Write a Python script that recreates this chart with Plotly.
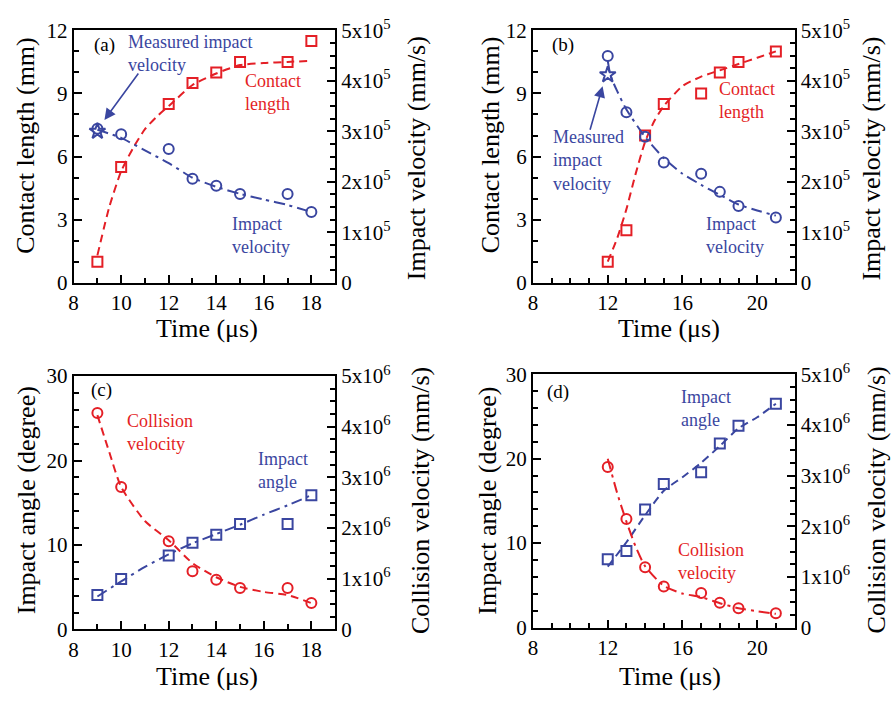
import plotly.graph_objects as go

# ---------------- data ----------------
# (a)
a_t = [9, 10, 12, 13, 14, 15, 17, 18]
a_len = [1.0, 5.5, 8.5, 9.5, 10.0, 10.5, 10.5, 11.5]
a_vel = [3.05e5, 2.94e5, 2.65e5, 2.06e5, 1.92e5, 1.76e5, 1.76e5, 1.40e5]
a_star_t = [9]
a_star_v = [3.0e5]
a_fit_len_t = [9, 9.5, 10, 10.5, 11, 11.5, 12, 13, 14, 15, 16, 17, 18]
a_fit_len = [1.3, 3.6, 5.3, 6.4, 7.3, 7.9, 8.4, 9.4, 9.95, 10.35, 10.45, 10.5, 10.55]
a_fit_vel_t = [9, 10, 11, 12, 13, 14, 15, 16, 17, 18]
a_fit_vel = [3.03e5, 2.87e5, 2.62e5, 2.37e5, 2.08e5, 1.9e5, 1.76e5, 1.65e5, 1.54e5, 1.4e5]

# (b)
b_t = [12, 13, 14, 15, 17, 18, 19, 21]
b_len = [1.0, 2.5, 7.0, 8.5, 9.0, 10.0, 10.5, 11.0]
b_vel = [4.49e5, 3.38e5, 2.89e5, 2.38e5, 2.16e5, 1.80e5, 1.52e5, 1.29e5]
b_star_t = [12]
b_star_v = [4.12e5]
b_fit_len_t = [12, 12.5, 13, 13.5, 14, 14.5, 15, 16, 17, 18, 19, 20, 21]
b_fit_len = [1.0, 2.1, 3.5, 5.2, 6.7, 7.7, 8.4, 9.35, 9.8, 10.1, 10.4, 10.7, 11.0]
b_fit_vel_t = [12, 12.15, 12.5, 13, 14, 15, 16, 17, 18, 19, 20, 21]
b_fit_vel = [4.40e5, 4.1e5, 3.8e5, 3.43e5, 2.89e5, 2.47e5, 2.16e5, 1.94e5, 1.74e5, 1.55e5, 1.43e5, 1.33e5]

# (c)
c_t = [9, 10, 12, 13, 14, 15, 17, 18]
c_ang = [4.07, 5.97, 8.75, 10.27, 11.2, 12.5, 12.5, 15.9]
c_col = [4.27e6, 2.81e6, 1.74e6, 1.15e6, 0.98e6, 0.82e6, 0.82e6, 0.52e6]
c_fit_ang_t = [9, 10, 11, 12, 13, 14, 15, 16, 17, 18]
c_fit_ang = [3.9, 5.7, 7.4, 8.9, 10.2, 11.3, 12.4, 13.6, 14.7, 15.9]
c_fit_col_t = [9, 9.5, 10, 11, 12, 13, 14, 15, 16, 17, 18]
c_fit_col = [4.23e6, 3.5e6, 2.81e6, 2.14e6, 1.76e6, 1.31e6, 1.03e6, 0.84e6, 0.74e6, 0.68e6, 0.52e6]

# (d)
d_t = [12, 13, 14, 15, 17, 18, 19, 21]
d_ang = [8.07, 9.06, 13.97, 17.0, 18.4, 21.8, 23.9, 26.5]
d_col = [3.17e6, 2.14e6, 1.19e6, 0.81e6, 0.68e6, 0.49e6, 0.38e6, 0.28e6]
d_fit_ang_t = [12, 13, 14, 15, 16, 17, 18, 19, 20, 21]
d_fit_ang = [7.2, 10.1, 13.3, 16.2, 17.8, 19.5, 21.5, 23.6, 24.9, 26.5]
d_fit_col_t = [12, 12.5, 13, 13.5, 14, 15, 16, 17, 18, 19, 20, 21]
d_fit_col = [3.33e6, 2.66e6, 2.09e6, 1.59e6, 1.21e6, 0.82e6, 0.67e6, 0.6e6, 0.48e6, 0.38e6, 0.32e6, 0.27e6]

# tick labels
vel_tickvals = [0, 1e5, 2e5, 3e5, 4e5, 5e5]
vel_ticktext = ["0"] + [f"{k}x10<sup>5</sup>" for k in range(1, 6)]
col_tickvals = [0, 1e6, 2e6, 3e6, 4e6, 5e6]
col_ticktext = ["0"] + [f"{k}x10<sup>6</sup>" for k in range(1, 6)]

# ---------------- style ----------------
RED = "#e41f26"
BLUE = "#3a46a0"
FONT = "'Liberation Serif', 'Times New Roman', 'DejaVu Serif', serif"
W, H = 892, 705
DASH = "8px,5px"
DASHDOT = "11px,5px,3px,5px"


def px(x):
    return x / W


def py(y):
    return 1 - y / H


fig = go.Figure()


def add_line(t, v, color, dash, xa, ya):
    fig.add_trace(go.Scatter(x=t, y=v, mode="lines", xaxis=xa, yaxis=ya,
                             line=dict(color=color, width=2, dash=dash, shape="spline", smoothing=0.6),
                             showlegend=False, hoverinfo="skip"))


def add_pts(t, v, color, symbol, xa, ya, size=10):
    fig.add_trace(go.Scatter(x=t, y=v, mode="markers", xaxis=xa, yaxis=ya,
                             marker=dict(symbol=symbol, size=size, color=color,
                                         line=dict(color=color, width=2)),
                             showlegend=False))


# panel (a): x1, y1 / y2
add_line(a_fit_len_t, a_fit_len, RED, DASH, "x", "y")
add_pts(a_t, a_len, RED, "square-open", "x", "y")
add_line(a_fit_vel_t, a_fit_vel, BLUE, DASHDOT, "x", "y2")
add_pts(a_t, a_vel, BLUE, "circle-open", "x", "y2")
add_pts(a_star_t, a_star_v, BLUE, "star-open", "x", "y2", size=12)

# panel (b): x2, y3 / y4
add_line(b_fit_len_t, b_fit_len, RED, DASH, "x2", "y3")
add_pts(b_t, b_len, RED, "square-open", "x2", "y3")
add_line(b_fit_vel_t, b_fit_vel, BLUE, DASHDOT, "x2", "y4")
add_pts(b_t, b_vel, BLUE, "circle-open", "x2", "y4")
add_pts(b_star_t, b_star_v, BLUE, "star-open", "x2", "y4", size=12)

# panel (c): x3, y5 / y6
add_line(c_fit_ang_t, c_fit_ang, BLUE, DASHDOT, "x3", "y5")
add_pts(c_t, c_ang, BLUE, "square-open", "x3", "y5")
add_line(c_fit_col_t, c_fit_col, RED, DASH, "x3", "y6")
add_pts(c_t, c_col, RED, "circle-open", "x3", "y6")

# panel (d): x4, y7 / y8
add_line(d_fit_ang_t, d_fit_ang, BLUE, DASH, "x4", "y7")
add_pts(d_t, d_ang, BLUE, "square-open", "x4", "y7")
add_line(d_fit_col_t, d_fit_col, RED, DASHDOT, "x4", "y8")
add_pts(d_t, d_col, RED, "circle-open", "x4", "y8")

tickfont = dict(family=FONT, size=21, color="black")
common = dict(showline=True, linecolor="black", linewidth=2, ticks="inside", ticklen=8,
              tickwidth=1.5, tickcolor="black", showgrid=False, zeroline=False,
              tickfont=tickfont)


def xaxis(domain, rng, dtick, anchor):
    return dict(domain=domain, range=rng, tick0=8, dtick=dtick, anchor=anchor, mirror=True,
                minor=dict(dtick=1, ticklen=5, tickwidth=1.5, ticks="inside", tickcolor="black",
                           showgrid=False), **common)


def yleft(domain, rng, dtick, mdtick, anchor):
    return dict(domain=domain, range=rng, tick0=0, dtick=dtick, anchor=anchor,
                minor=dict(dtick=mdtick, ticklen=5, tickwidth=1.5, ticks="inside",
                           tickcolor="black", showgrid=False), **common)


def yright(base, rng, tv, tt, mdtick, anchor):
    return dict(overlaying=base, side="right", range=rng, anchor=anchor, tickmode="array",
                tickvals=tv, ticktext=tt,
                minor=dict(tick0=0, dtick=mdtick, ticklen=5, tickwidth=1.5, ticks="inside",
                           tickcolor="black", showgrid=False), **common)


dx_left = [px(69), px(332)]
dx_right = [px(531), px(794)]
dy_top = [py(279), py(17)]
dy_bot = [py(639), py(376)]
dy_bot_r = [py(637), py(374)]

fig.update_layout(
    xaxis=xaxis(dx_left, [8, 19], 2, "y"),
    yaxis=yleft(dy_top, [0, 12], 3, 1, "x"),
    yaxis2=yright("y", [0, 5e5], vel_tickvals, vel_ticktext, 2.5e4, "x"),
    xaxis2=xaxis(dx_right, [8, 22], 4, "y3"),
    yaxis3=yleft(dy_top, [0, 12], 3, 1, "x2"),
    yaxis4=yright("y3", [0, 5e5], vel_tickvals, vel_ticktext, 2.5e4, "x2"),
    xaxis3=xaxis(dx_left, [8, 19], 2, "y5"),
    yaxis5=yleft(dy_bot, [0, 30], 10, 2, "x3"),
    yaxis6=yright("y5", [0, 5e6], col_tickvals, col_ticktext, 2.5e5, "x3"),
    xaxis4=xaxis(dx_right, [8, 22], 4, "y7"),
    yaxis7=yleft(dy_bot_r, [0, 30], 10, 2, "x4"),
    yaxis8=yright("y7", [0, 5e6], col_tickvals, col_ticktext, 2.5e5, "x4"),
)

annots = []


def label(text, x, y, color="black", size=18, anchor="left", angle=0, yanchor="middle"):
    annots.append(dict(text=text, x=px(x), y=py(y), xref="paper", yref="paper",
                       showarrow=False, xanchor=anchor if angle == 0 else "center",
                       yanchor=yanchor, align="left", textangle=angle,
                       font=dict(family=FONT, size=size, color=color)))


TS = 26
# axis titles
label("Contact length (mm)", 21, 136, size=TS, angle=-90)
label("Impact velocity (mm/s)", 414, 150, size=TS, angle=-90)
label("Time (μs)", 203, 327, size=TS, anchor="center")
label("Contact length (mm)", 489, 136, size=TS, angle=-90)
label("Impact velocity (mm/s)", 871, 150, size=TS, angle=-90)
label("Time (μs)", 668, 327, size=TS, anchor="center")
label("Impact angle (degree)", 21, 505, size=TS, angle=-90)
label("Collision velocity (mm/s)", 418, 505, size=TS, angle=-90)
label("Time (μs)", 203, 688, size=TS, anchor="center")
label("Impact angle (degree)", 485, 505, size=TS, angle=-90)
label("Collision velocity (mm/s)", 876, 505, size=TS, angle=-90)
label("Time (μs)", 669, 688, size=TS, anchor="center")

# panel letters
label("(a)", 87, 32, size=19)
label("(b)", 548, 32, size=19)
label("(c)", 84, 390, size=19)
label("(d)", 543, 392, size=19)

# series labels
label("Measured impact<br>velocity", 122, 41, color=BLUE)
label("Contact<br>length", 239, 81, color=RED)
label("Impact<br>velocity", 226, 230, color=BLUE)
label("Measured<br>impact<br>velocity", 549, 152, color=BLUE)
label("Contact<br>length", 716, 90, color=RED)
label("Impact<br>velocity", 703, 230, color=BLUE)
label("Collision<br>velocity", 121, 435, color=RED)
label("Impact<br>angle", 252, 474, color=BLUE)
label("Impact<br>angle", 678, 410, color=BLUE)
label("Collision<br>velocity", 675, 568, color=RED)

# arrows (tip position in paper coords, tail offset in pixels)
annots.append(dict(x=px(100), y=py(110), ax=35, ay=-48, xref="paper", yref="paper",
                   axref="pixel", ayref="pixel", text="", showarrow=True, arrowhead=2,
                   arrowsize=1.4, arrowwidth=1.6, arrowcolor=BLUE))
annots.append(dict(x=px(601), y=py(75), ax=-13, ay=45, xref="paper", yref="paper",
                   axref="pixel", ayref="pixel", text="", showarrow=True, arrowhead=2,
                   arrowsize=1.4, arrowwidth=1.6, arrowcolor=BLUE))

fig.update_layout(annotations=annots, width=W, height=H, autosize=False,
                  margin=dict(l=0, r=0, t=0, b=0), paper_bgcolor="white",
                  plot_bgcolor="white", showlegend=False,
                  font=dict(family=FONT, color="black"))

fig.write_html("out.html")
